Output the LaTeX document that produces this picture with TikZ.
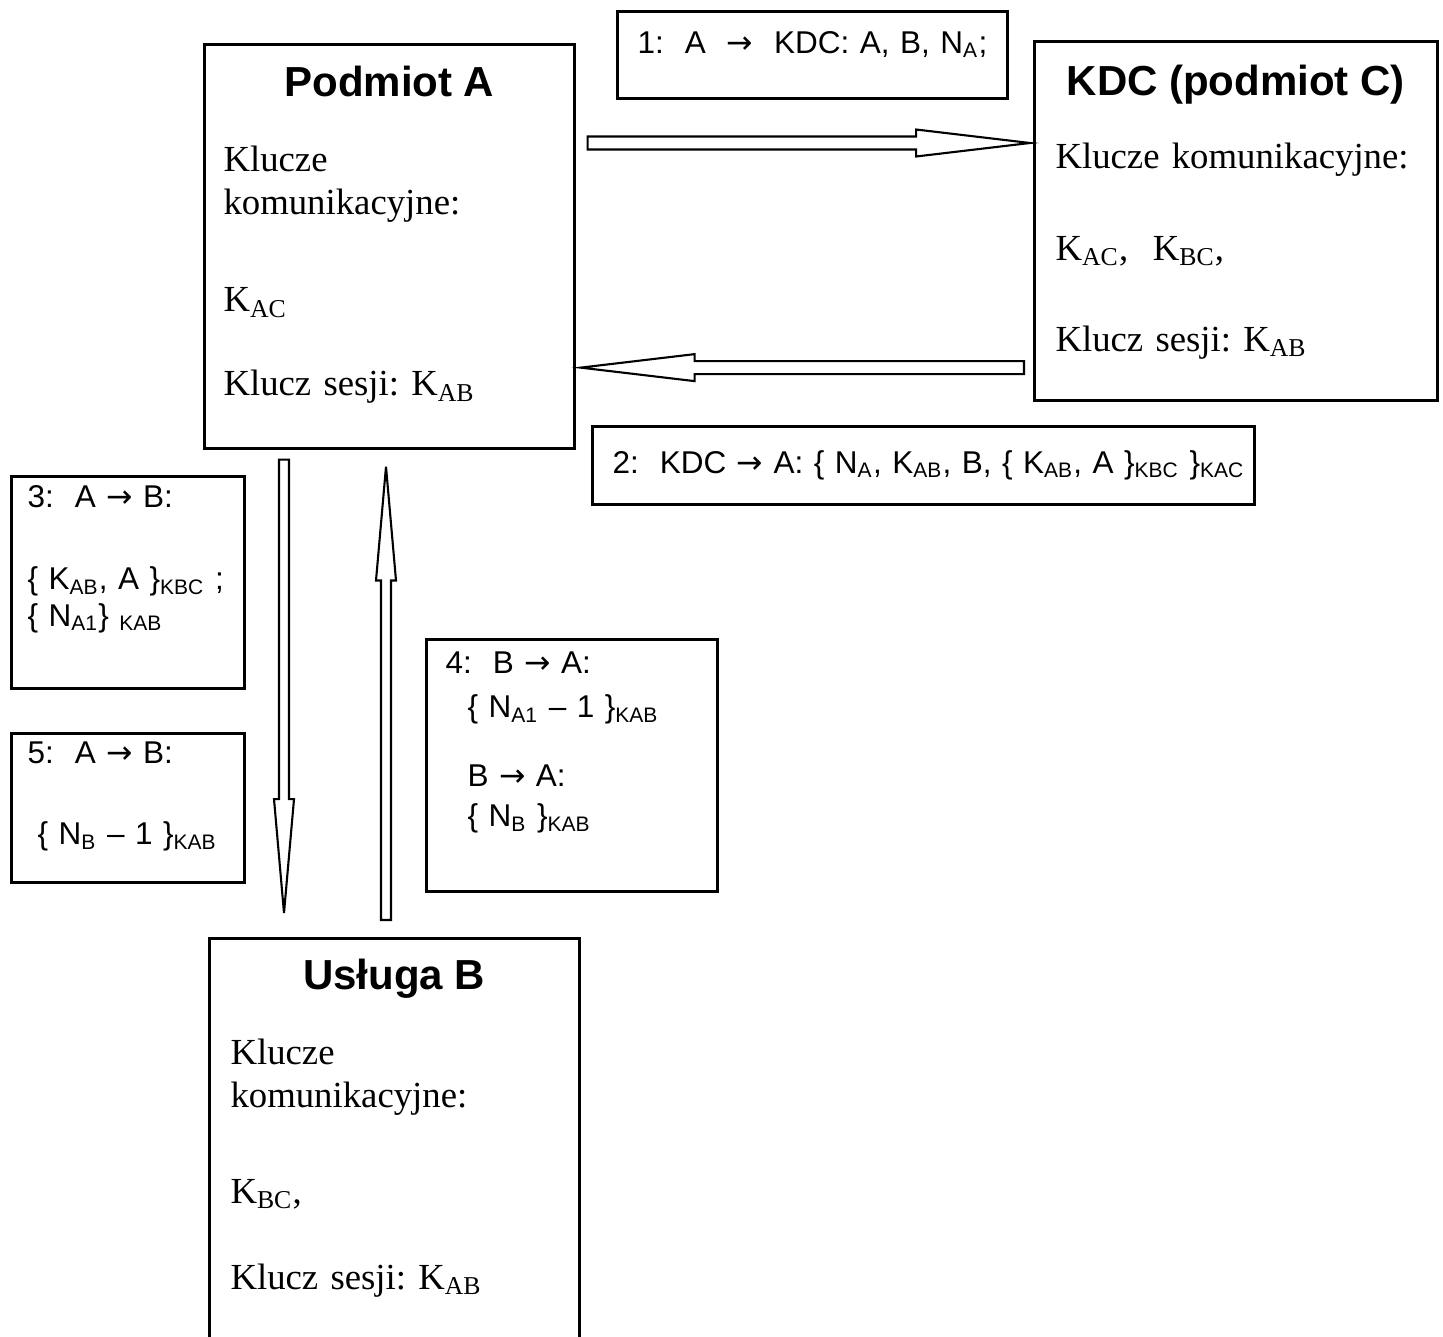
\documentclass[tikz,border=0pt]{standalone}
\usepackage{fontspec}
\setmainfont{Liberation Serif}
\setsansfont{Liberation Sans}
\newfontfamily\arrowfont{DejaVu Sans}
\newcommand{\msgarrow}{{\arrowfont →}}
\usetikzlibrary{calc}

% outlined block arrow: start, tip, shaft half width, head half width
\newcommand{\hollowarrow}[4]{%
  \coordinate (#1h) at ($(#2)!43.4pt!(#1)$);
  \draw[hollow] ($(#1)!#3!90:(#2)$) -- ($(#1h)!#3!90:(#2)$) -- ($(#1h)!#4!90:(#2)$)
    -- (#2) -- ($(#1h)!#4!-90:(#2)$) -- ($(#1h)!#3!-90:(#2)$) -- ($(#1)!#3!-90:(#2)$) -- cycle;
}

\begin{document}
\frenchspacing
\begin{tikzpicture}[
  x=0.381pt, y=-0.381pt,
  wh/.style 2 args = {minimum width=#1*0.381pt, minimum height=#2*0.381pt},
  entity/.style  = {draw, line width=1pt, anchor=north west, inner sep=0pt},
  heading/.style = {font=\sffamily\bfseries\fontsize{16}{19}\selectfont, anchor=base, inner sep=0pt},
  bodytxt/.style = {font=\fontsize{14}{16.4}\selectfont, anchor=base west, align=left, text width=150pt, inner sep=0pt},
  msgtxt/.style  = {font=\sffamily\fontsize{12}{13.8}\selectfont, anchor=base west, align=left, text width=250pt, inner sep=0pt},
  hollow/.style  = {draw, line width=0.8pt, fill=white},
]
  \clip (0,0) rectangle (1443,1336);

  % parties
  \node[entity, wh={370}{404}] (podA) at (203,43)   {};
  \node[entity, wh={403}{359}] (kdc)  at (1033,40)  {};
  \node[entity, wh={370}{420}] (uslB) at (208,937)  {};

  \node[heading] (podAhd) at ($(podA.north)+(0,53)$) {Podmiot A};
  \node[heading] (kdchd)  at ($(kdc.north)+(0,55)$)  {KDC (podmiot C)};
  \node[heading] (uslBhd) at ($(uslB.north)+(0,52)$) {Usługa B};

  \node[bodytxt] (podAtxt) at ($(podA.north west)+(20,128)$)
    {Klucze\\komunikacyjne:\\[20.9pt]K\textsubscript{AC}\\[15.6pt]Klucz sesji: K\textsubscript{AB}};
  \node[bodytxt] (kdctxt) at ($(kdc.north west)+(22,128)$)
    {Klucze komunikacyjne:\\[18.7pt]K\textsubscript{AC}, \ K\textsubscript{BC},\\[18.3pt]Klucz sesji: K\textsubscript{AB}};
  \node[bodytxt] (uslBtxt) at ($(uslB.north west)+(22,127)$)
    {Klucze\\komunikacyjne:\\[20.2pt]K\textsubscript{BC},\\[16.4pt]Klucz sesji: K\textsubscript{AB}};

  % messages
  \node[entity, wh={390}{87}]  (m1) at (616,10)  {};
  \node[entity, wh={662}{78}]  (m2) at (591,425) {};
  \node[entity, wh={233}{212}] (m3) at (10,475)  {};
  \node[entity, wh={291}{252}] (m4) at (425,638) {};
  \node[entity, wh={233}{149}] (m5) at (10,732)  {};

  \node[msgtxt] (m1txt) at ($(m1.north west)+(21,43)$)
    {1:\ \ A \ \msgarrow\ \ KDC: A, B, N\textsubscript{A};};
  \node[msgtxt] (m2txt) at ($(m2.north west)+(21,48)$)
    {2:\ \ KDC \msgarrow\ A: \{ N\textsubscript{A}, K\textsubscript{AB}, B, \{ K\textsubscript{AB}, A \}\textsubscript{KBC} \}\textsubscript{KAC}};
  \node[msgtxt] (m3txt) at ($(m3.north west)+(17,32)$)
    {3:\ \ A \msgarrow\ B:\\[17.8pt]\{ K\textsubscript{AB}, A \}\textsubscript{KBC} ;\\\{ N\textsubscript{A1}\} \textsubscript{KAB}};
  \node[msgtxt] (m4txt) at ($(m4.north west)+(20,35)$)
    {4:\ \ B \msgarrow\ A:\\[3.3pt]\hspace*{8.4pt}\{ N\textsubscript{A1} – 1 \}\textsubscript{KAB}\\[12.5pt]\hspace*{8.4pt}B \msgarrow\ A:\\[1.4pt]\hspace*{8.4pt}\{ N\textsubscript{B} \}\textsubscript{KAB}};
  \node[msgtxt] (m5txt) at ($(m5.north west)+(17,31)$)
    {5:\ \ A \msgarrow\ B:\\[17.4pt]\hspace*{3.8pt}\{ N\textsubscript{B} – 1 \}\textsubscript{KAB}};

  % block arrows
  \coordinate (a1s) at ($(podA.north east)+(12,100)$);
  \coordinate (a1t) at ($(kdc.west |- a1s)+(-3,0)$);
  \coordinate (a2s) at ($(kdc.south west)+(-9,-34)$);
  \coordinate (a2t) at ($(podA.east |- a2s)+(5,0)$);
  \coordinate (a3s) at ($(podA.south west)+(81,10)$);
  \coordinate (a3t) at ($(uslB.north -| a3s)+(0,-24)$);
  \coordinate (a4s) at ($(uslB.north west)+(178,-17)$);
  \coordinate (a4t) at ($(podA.south -| a4s)+(0,17)$);
  \hollowarrow{a1s}{a1t}{2.48pt}{5.14pt}
  \hollowarrow{a2s}{a2t}{2.48pt}{5.14pt}
  \hollowarrow{a3s}{a3t}{1.9pt}{3.81pt}
  \hollowarrow{a4s}{a4t}{1.9pt}{3.81pt}
\end{tikzpicture}
\end{document}
